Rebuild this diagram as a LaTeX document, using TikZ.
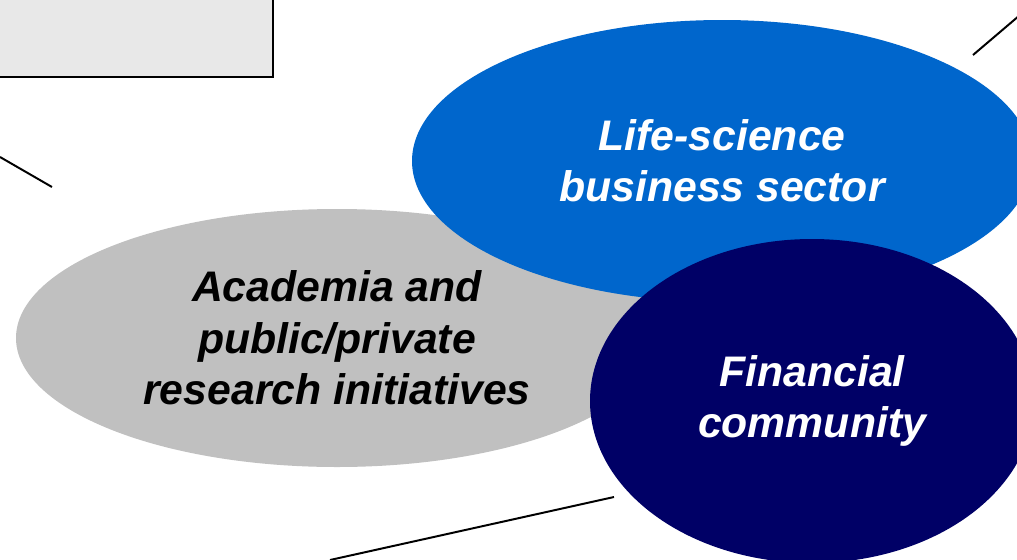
\documentclass[tikz,border=0pt]{standalone}
\usepackage{fontspec}
\setmainfont{Liberation Sans}
\usetikzlibrary{shapes.geometric}
\definecolor{lifeblue}{HTML}{0066CC}
\definecolor{finnavy}{HTML}{000066}
\definecolor{acadgray}{HTML}{C0C0C0}
\definecolor{boxgray}{HTML}{E8E8E8}
\tikzset{
  sector/.style={ellipse, inner sep=0pt, align=center,
    font=\fontsize{30.4}{36.5}\selectfont\bfseries\itshape},
  rule/.style={line width=1.4pt, black}
}

\begin{document}
\begin{tikzpicture}[x=0.025cm, y=-0.025cm]
\useasboundingbox (0,0) rectangle (1017,559);
\clip (0,0) rectangle (1017,559);
\fill[white] (0,0) rectangle (1017,559);

\draw[rule, fill=boxgray] (-10,-10) rectangle (273,77);

\node (acad) [sector, fill=acadgray, text=black,
  minimum width=642*0.025cm, minimum height=258*0.025cm]
  at (337,338) {Academia and\\public/private\\research initiatives};
\node (life) [sector, fill=lifeblue, text=white,
  minimum width=620*0.025cm, minimum height=282*0.025cm]
  at (722,161) {Life-science\\business sector};
\node (fin) [sector, fill=finnavy, text=white,
  minimum width=444*0.025cm, minimum height=324*0.025cm]
  at (812,401) {Financial\\community};

% free rules
\coordinate (l1a) at (0,157);   \coordinate (l1b) at (52,187);
\coordinate (l2a) at (973,55);  \coordinate (l2b) at (1020,15);
\coordinate (l3a) at (330,560); \coordinate (l3b) at (614,497);
\draw[rule] (l1a) -- (l1b);
\draw[rule] (l2a) -- (l2b);
\draw[rule] (l3a) -- (l3b);
\end{tikzpicture}
\end{document}
